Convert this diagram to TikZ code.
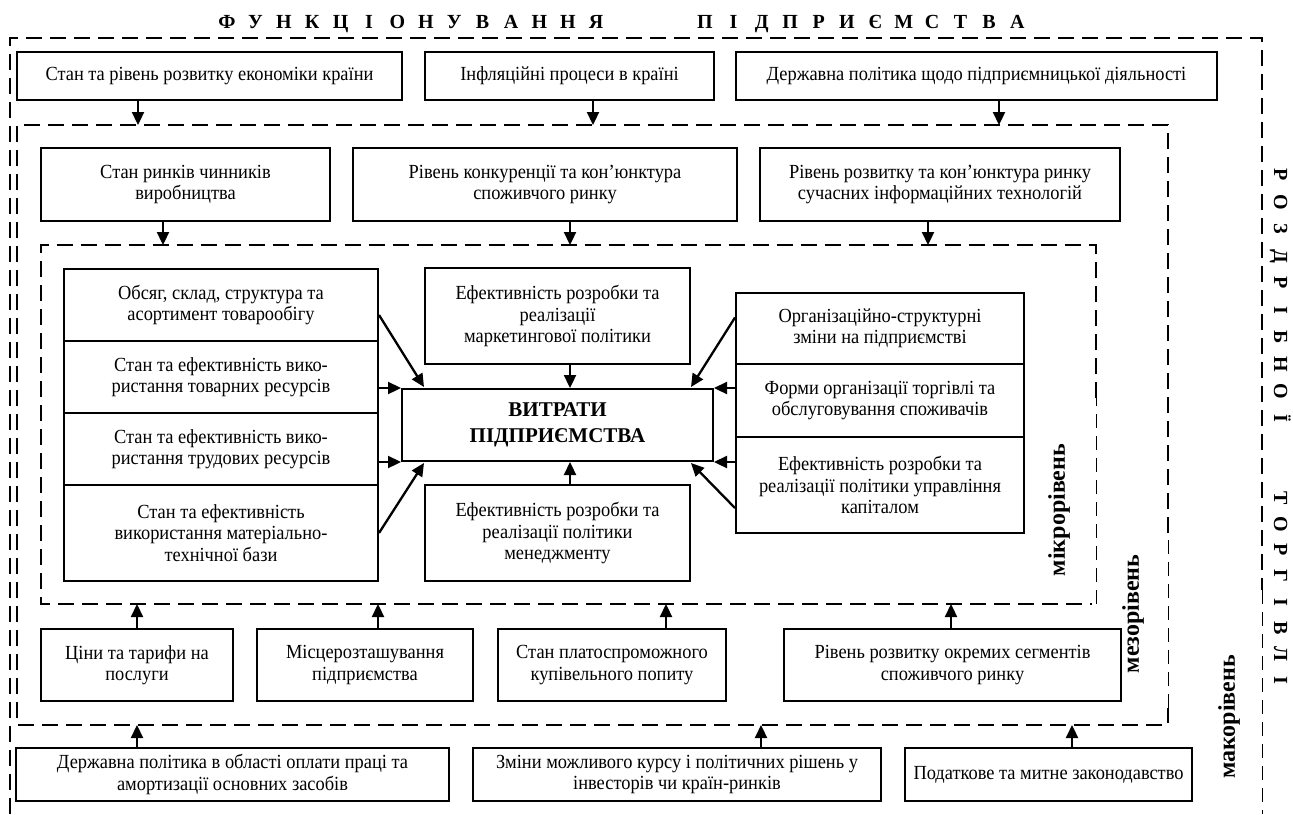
\documentclass[tikz,border=0pt]{standalone}
\usepackage{fontspec}
\setmainfont{Liberation Serif}
\newfontfamily\bodyfont{Liberation Serif}[FakeStretch=0.92]
\usetikzlibrary{arrows.meta}
\tikzset{
  bx/.style={draw, line width=2pt, align=center, inner sep=0pt, font=\bodyfont\fontsize{20}{21.5}\selectfont},
  ctrbox/.style={draw, line width=2pt, align=center, inner sep=0pt, font=\fontsize{21}{26}\selectfont\bfseries},
  arr/.style={line width=2.3pt, -{Triangle[length=13pt,width=12pt]}},
  dsh/.style={line width=2pt, dash pattern=on 16pt off 8pt},
  tdsh/.style={line width=0.9pt, dash pattern=on 14pt off 8pt},
  ttl/.style={font=\fontsize{20}{24}\selectfont\bfseries, inner sep=0pt, text height=14pt, text depth=0pt},
  lvl/.style={font=\fontsize{24}{26}\selectfont\bfseries, inner sep=0pt}
}
\newcommand\mybox[6]{\node[bx, minimum width={(#4-#2)*1pt}, minimum height={(#5-#3)*1pt}] (#1) at ({(#2+#4)/2},{(#3+#5)/2}) {#6};}
\begin{document}
\begin{tikzpicture}[x=1pt,y=-1pt]
\useasboundingbox (0,0) rectangle (1293,814);

% title
\foreach \l [count=\i from 0] in {Ф,У,Н,К,Ц,І,О,Н,У,В,А,Н,Н,Я}
  \node[ttl] (ta\i) at ({227+28.4*\i},21) {\l};
\foreach \l [count=\i from 0] in {П,І,Д,П,Р,И,Є,М,С,Т,В,А}
  \node[ttl] (tb\i) at ({705+28.4*\i},21) {\l};
% right vertical title
\foreach \l [count=\i from 0] in {Р,О,З,Д,Р,І,Б,Н,О,Ї}
  \node[ttl, rotate=-90] (ra\i) at (1281,{175+27*\i}) {\l};
\foreach \l [count=\i from 0] in {Т,О,Р,Г,І,В,Л,І}
  \node[ttl, rotate=-90] (rb\i) at (1281,{498+26*\i}) {\l};

% dashed frames
\draw[dsh] (10,814) -- (10,38) -- (1262,38) -- (1262,590);
\draw[tdsh] (1262,590) -- (1262,814);
\draw[dsh] (1168,533) -- (1168,125) -- (17,125) -- (17,725) -- (1168,725) -- (1168,708);
\draw[tdsh] (1168,708) -- (1168,533);
\draw[dsh] (1096,398) -- (1096,245) -- (41,245) -- (41,604) -- (1092,604);
\draw[tdsh] (1096,604) -- (1096,398);

\coordinate (mesoTop) at (0,125);
\coordinate (mesoBot) at (0,725);
\coordinate (microTop) at (0,245);
\coordinate (microBot) at (0,604);

% level labels
\node[lvl, rotate=90] (lmicro) at (1059,510) {мікрорівень};
\node[lvl, rotate=90] (lmeso) at (1133,614) {мезорівень};
\node[lvl, rotate=90] (lmacro) at (1229,717) {макорівень};

% macro top row
\mybox{t1}{17}{52}{402}{100}{Стан та рівень розвитку економіки країни}
\mybox{t2}{425}{52}{714}{100}{Інфляційні процеси в країні}
\mybox{t3}{736}{52}{1217}{100}{Державна політика щодо підприємницької діяльності}

% meso top row
\mybox{m1}{41}{148}{330}{221}{Стан ринків чинників\\виробництва}
\mybox{m2}{353}{148}{737}{221}{Рівень конкуренції та кон’юнктура\\споживчого ринку}
\mybox{m3}{760}{148}{1120}{221}{Рівень розвитку та кон’юнктура ринку\\сучасних інформаційних технологій}

% micro left stack
\mybox{A}{64}{269}{378}{341}{Обсяг, склад, структура та\\асортимент товарообігу}
\mybox{B}{64}{341}{378}{413}{Стан та ефективність вико-\\ристання товарних ресурсів}
\mybox{C}{64}{413}{378}{485}{Стан та ефективність вико-\\ристання трудових ресурсів}
\mybox{D}{64}{485}{378}{581}{Стан та ефективність\\використання матеріально-\\технічної бази}

% centre
\mybox{mk}{425}{268}{690}{364}{Ефективність розробки та\\реалізації\\маркетингової політики}
\node[ctrbox, minimum width=311pt, minimum height=72pt] (ctr) at (557.5,425) {ВИТРАТИ\\ПІДПРИЄМСТВА};
\mybox{mn}{425}{485}{690}{581}{Ефективність розробки та\\реалізації політики\\менеджменту}

% micro right stack
\mybox{E}{736}{293}{1024}{364}{Організаційно-структурні\\зміни на підприємстві}
\mybox{F}{736}{364}{1024}{437}{Форми організації торгівлі та\\обслуговування споживачів}
\mybox{G}{736}{437}{1024}{533}{Ефективність розробки та\\реалізації політики управління\\капіталом}

% meso bottom row
\mybox{b1}{41}{629}{233}{701}{Ціни та тарифи на\\послуги}
\mybox{b2}{257}{629}{473}{701}{Місцерозташування\\підприємства}
\mybox{b3}{498}{629}{726}{701}{Стан платоспроможного\\купівельного попиту}
\mybox{b4}{784}{629}{1121}{701}{Рівень розвитку окремих сегментів\\споживчого ринку}

% macro bottom row
\mybox{c1}{16}{748}{449}{801}{Державна політика в області оплати праці та\\амортизації основних засобів}
\mybox{c2}{473}{748}{881}{801}{Зміни можливого курсу і політичних рішень у\\інвесторів чи країн-ринків}
\mybox{c3}{905}{748}{1192}{801}{Податкове та митне законодавство}

% arrow columns
\coordinate (x137) at (137,0);
\coordinate (x138) at (138,0);
\coordinate (x593) at (593,0);
\coordinate (x999) at (999,0);
\coordinate (x163) at (163,0);
\coordinate (x570) at (570,0);
\coordinate (x928) at (928,0);
\coordinate (x378) at (378,0);
\coordinate (x666) at (666,0);
\coordinate (x951) at (951,0);
\coordinate (x761) at (761,0);
\coordinate (x1072) at (1072,0);

% macro top -> meso
\draw[arr] (t1.south -| x138) -- (mesoTop -| x138);
\draw[arr] (t2.south -| x593) -- (mesoTop -| x593);
\draw[arr] (t3.south -| x999) -- (mesoTop -| x999);
% meso top -> micro
\draw[arr] (m1.south -| x163) -- (microTop -| x163);
\draw[arr] (m2.south -| x570) -- (microTop -| x570);
\draw[arr] (m3.south -| x928) -- (microTop -| x928);
% meso bottom -> micro
\draw[arr] (b1.north -| x137) -- (microBot -| x137);
\draw[arr] (b2.north -| x378) -- (microBot -| x378);
\draw[arr] (b3.north -| x666) -- (microBot -| x666);
\draw[arr] (b4.north -| x951) -- (microBot -| x951);
% macro bottom -> meso
\draw[arr] (c1.north -| x137) -- (mesoBot -| x137);
\draw[arr] (c2.north -| x761) -- (mesoBot -| x761);
\draw[arr] (c3.north -| x1072) -- (mesoBot -| x1072);

% into the centre
\draw[arr] ([yshift=-10pt]A.east) -- ([xshift=23pt,yshift=1pt]ctr.north west);
\draw[arr] (ctr.north west -| B.east) -- (ctr.north west);
\draw[arr] (ctr.south west -| C.east) -- (ctr.south west);
\draw[arr] (D.east) -- ([xshift=23pt,yshift=-1pt]ctr.south west);
\draw[arr] (mk.south -| x570) -- (ctr.north -| x570);
\draw[arr] (mn.north -| x570) -- (ctr.south -| x570);
\draw[arr] ([yshift=11pt]E.west) -- ([xshift=-23pt,yshift=1pt]ctr.north east);
\draw[arr] (ctr.north east -| F.west) -- (ctr.north east);
\draw[arr] (ctr.south east -| G.west) -- (ctr.south east);
\draw[arr] ([yshift=-23pt]G.west) -- ([xshift=-23pt,yshift=-1pt]ctr.south east);
\end{tikzpicture}
\end{document}
